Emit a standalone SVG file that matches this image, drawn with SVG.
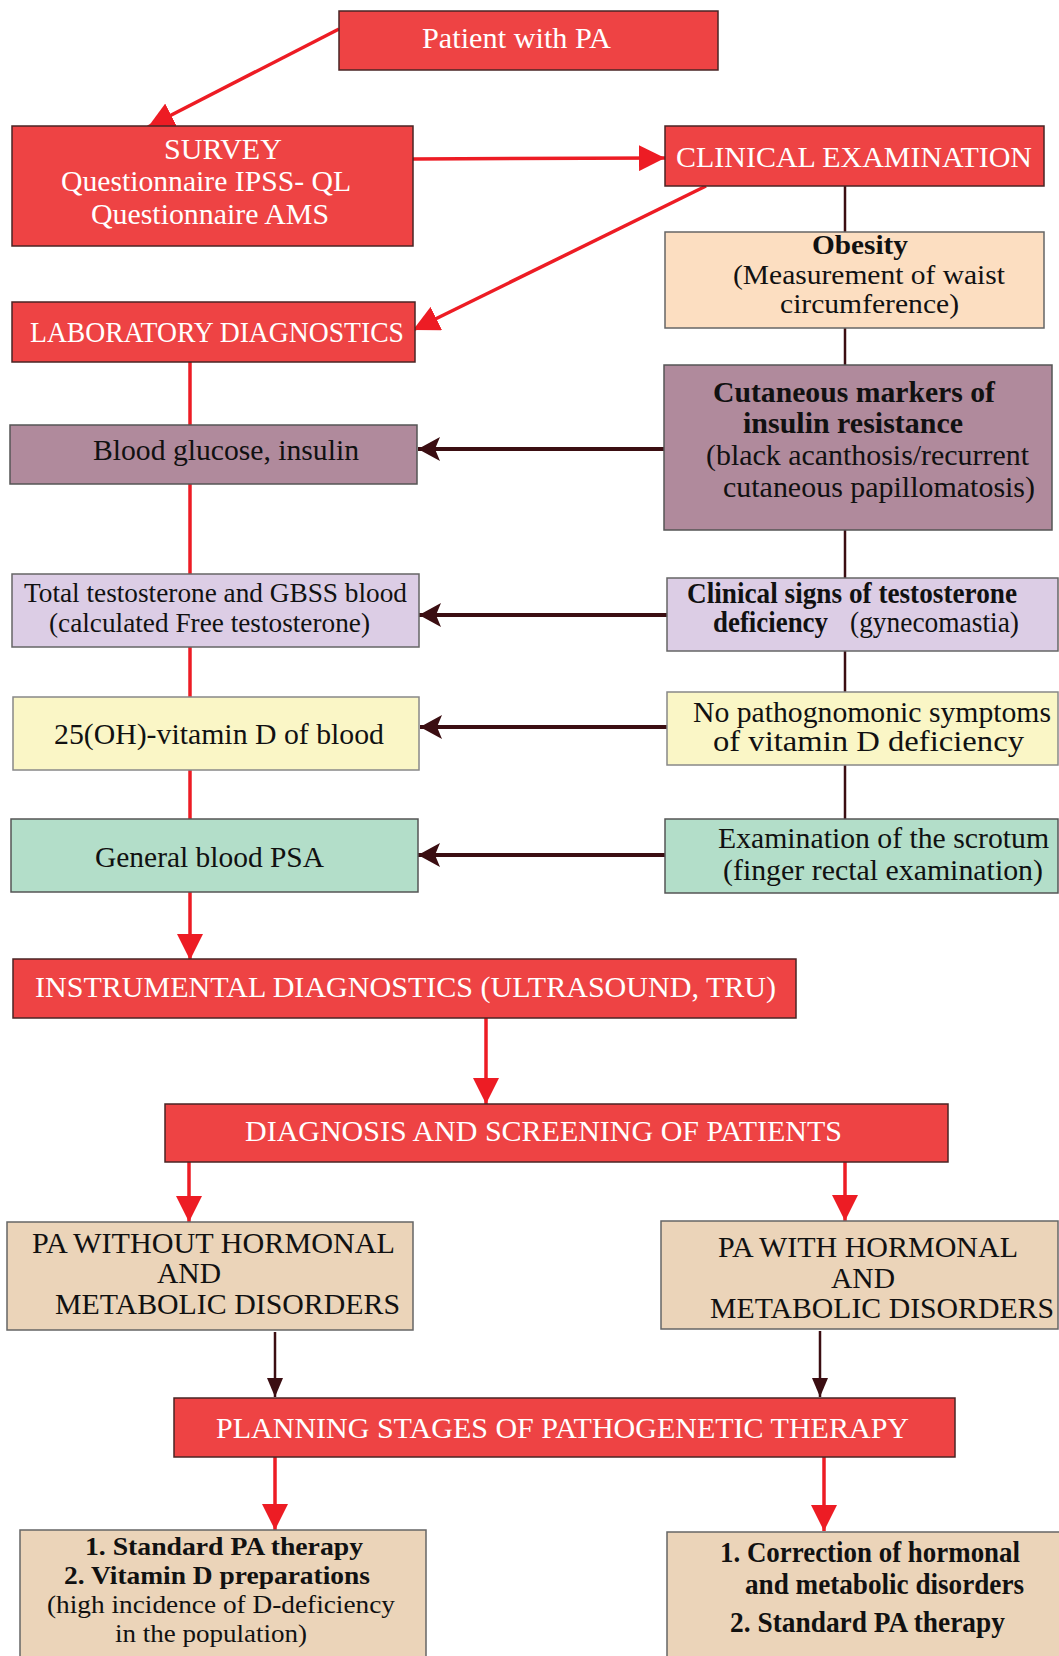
<svg xmlns="http://www.w3.org/2000/svg" width="1059" height="1656" viewBox="0 0 1059 1656">
<style>
text{font-family:"Liberation Serif","Times New Roman",serif;font-size:29px;fill:#111}
.w{fill:#fff;font-size:30px}
.b{font-weight:bold}
.s{font-size:26px}
.m{font-size:27px}
.red{fill:#EE4344;stroke:#4a2424;stroke-width:1.5}
.peach{fill:#FCDEC1;stroke:#666;stroke-width:1.5}
.mauve{fill:#B08A9C;stroke:#555;stroke-width:1.5}
.lav{fill:#DCCDE5;stroke:#666;stroke-width:1.5}
.yel{fill:#FAF6C6;stroke:#888;stroke-width:1.5}
.grn{fill:#B3DEC9;stroke:#555;stroke-width:1.5}
.tan{fill:#EBD4B9;stroke:#666;stroke-width:1.5}
.rl{stroke:#ED1C24;stroke-width:3.5;fill:none}
.dl{stroke:#3B0E12;stroke-width:2.5;fill:none}
.dh{stroke:#3B0E12;stroke-width:4;fill:none}
</style>
<defs>
<marker id="ra" markerUnits="userSpaceOnUse" markerWidth="28" markerHeight="26" refX="26" refY="13" orient="auto"><path d="M0,0 L26,13 L0,26 z" fill="#ED1C24"/></marker>
<marker id="da" markerUnits="userSpaceOnUse" markerWidth="24" markerHeight="24" refX="22" refY="12" orient="auto"><path d="M0,0 L22,12 L0,24 L5,12 z" fill="#3B0E12"/></marker>
<marker id="ds" markerUnits="userSpaceOnUse" markerWidth="20" markerHeight="18" refX="19" refY="8" orient="auto"><path d="M0,0 L19,8 L0,16 z" fill="#3B0E12"/></marker>
</defs>

<g id="connectors">
<line class="rl" x1="339" y1="29" x2="148" y2="127" marker-end="url(#ra)"/>
<line class="rl" x1="413" y1="159" x2="665" y2="158" marker-end="url(#ra)"/>
<line class="rl" x1="706" y1="186" x2="413" y2="330" marker-end="url(#ra)"/>
<line class="dl" x1="845" y1="186" x2="845" y2="232"/>
<line class="dl" x1="845" y1="328" x2="845" y2="365"/>
<line class="dl" x1="845" y1="530" x2="845" y2="578"/>
<line class="dl" x1="845" y1="651" x2="845" y2="692"/>
<line class="dl" x1="845" y1="765" x2="845" y2="819"/>
<line class="rl" x1="190" y1="362" x2="190" y2="425"/>
<line class="rl" x1="190" y1="484" x2="190" y2="574"/>
<line class="rl" x1="190" y1="647" x2="190" y2="697"/>
<line class="rl" x1="190" y1="770" x2="190" y2="819"/>
<line class="rl" x1="190" y1="892" x2="190" y2="960" marker-end="url(#ra)"/>
<line class="dh" x1="664" y1="449" x2="418" y2="449" marker-end="url(#da)"/>
<line class="dh" x1="667" y1="615" x2="419" y2="615" marker-end="url(#da)"/>
<line class="dh" x1="667" y1="727" x2="420" y2="727" marker-end="url(#da)"/>
<line class="dh" x1="665" y1="855" x2="418" y2="855" marker-end="url(#da)"/>
<line class="rl" x1="486" y1="1018" x2="486" y2="1104" marker-end="url(#ra)"/>
<line class="rl" x1="189" y1="1162" x2="189" y2="1222" marker-end="url(#ra)"/>
<line class="rl" x1="845" y1="1162" x2="845" y2="1221" marker-end="url(#ra)"/>
<line class="dl" x1="275" y1="1332" x2="275" y2="1397" marker-end="url(#ds)"/>
<line class="dl" x1="820" y1="1331" x2="820" y2="1397" marker-end="url(#ds)"/>
<line class="rl" x1="275" y1="1457" x2="275" y2="1530" marker-end="url(#ra)"/>
<line class="rl" x1="824" y1="1457" x2="824" y2="1531" marker-end="url(#ra)"/>
</g>

<g id="patient"><rect class="red" x="339" y="11" width="379" height="59"/>
<text class="w" x="422" y="48" textLength="189" lengthAdjust="spacingAndGlyphs">Patient with PA</text></g>

<g id="survey"><rect class="red" x="12" y="126" width="401" height="120"/>
<text class="w" x="164" y="159" textLength="118" lengthAdjust="spacingAndGlyphs">SURVEY</text>
<text class="w" x="61" y="191" textLength="290" lengthAdjust="spacingAndGlyphs">Questionnaire IPSS- QL</text>
<text class="w" x="91" y="224" textLength="238" lengthAdjust="spacingAndGlyphs">Questionnaire AMS</text></g>

<g id="clinical"><rect class="red" x="665" y="126" width="379" height="60"/>
<text class="w" x="676" y="167" textLength="356" lengthAdjust="spacingAndGlyphs">CLINICAL EXAMINATION</text></g>

<g id="obesity"><rect class="peach" x="665" y="232" width="379" height="96"/>
<text class="b m" x="812" y="254" textLength="96" lengthAdjust="spacingAndGlyphs">Obesity</text>
<text class="m" x="733" y="284" textLength="272" lengthAdjust="spacingAndGlyphs">(Measurement of waist</text>
<text class="m" x="780" y="313" textLength="179" lengthAdjust="spacingAndGlyphs">circumference)</text></g>

<g id="lab"><rect class="red" x="12" y="302" width="403" height="60"/>
<text class="w" x="30" y="342" textLength="374" lengthAdjust="spacingAndGlyphs">LABORATORY DIAGNOSTICS</text></g>

<g id="cutaneous"><rect class="mauve" x="664" y="365" width="388" height="165"/>
<text class="b" x="713" y="402" textLength="282" lengthAdjust="spacingAndGlyphs">Cutaneous markers of</text>
<text class="b" x="743" y="433" textLength="220" lengthAdjust="spacingAndGlyphs">insulin resistance</text>
<text x="706" y="465" textLength="323" lengthAdjust="spacingAndGlyphs">(black acanthosis/recurrent</text>
<text x="723" y="497" textLength="312" lengthAdjust="spacingAndGlyphs">cutaneous papillomatosis)</text></g>

<g id="glucose"><rect class="mauve" x="10" y="425" width="407" height="59"/>
<text x="93" y="460" textLength="266" lengthAdjust="spacingAndGlyphs">Blood glucose, insulin</text></g>

<g id="testo"><rect class="lav" x="12" y="574" width="407" height="73"/>
<text class="m" x="24" y="602" textLength="383" lengthAdjust="spacingAndGlyphs">Total testosterone and GBSS blood</text>
<text class="m" x="49" y="632" textLength="321" lengthAdjust="spacingAndGlyphs">(calculated Free testosterone)</text></g>

<g id="signs"><rect class="lav" x="667" y="578" width="391" height="73"/>
<text class="b" x="687" y="603" textLength="330" lengthAdjust="spacingAndGlyphs">Clinical signs of testosterone</text>
<text class="b" x="713" y="632" textLength="115" lengthAdjust="spacingAndGlyphs">deficiency</text>
<text x="850" y="632" textLength="169" lengthAdjust="spacingAndGlyphs">(gynecomastia)</text></g>

<g id="vitd"><rect class="yel" x="13" y="697" width="406" height="73"/>
<text x="54" y="744" textLength="330" lengthAdjust="spacingAndGlyphs">25(OH)-vitamin D of blood</text></g>

<g id="nopath"><rect class="yel" x="667" y="692" width="391" height="73"/>
<text x="693" y="722" textLength="358" lengthAdjust="spacingAndGlyphs">No pathognomonic symptoms</text>
<text x="713" y="751" textLength="311" lengthAdjust="spacingAndGlyphs">of vitamin D deficiency</text></g>

<g id="psa"><rect class="grn" x="11" y="819" width="407" height="73"/>
<text x="95" y="867" textLength="229" lengthAdjust="spacingAndGlyphs">General blood PSA</text></g>

<g id="scrotum"><rect class="grn" x="665" y="819" width="393" height="74"/>
<text x="718" y="848" textLength="331" lengthAdjust="spacingAndGlyphs">Examination of the scrotum</text>
<text x="723" y="880" textLength="320" lengthAdjust="spacingAndGlyphs">(finger rectal examination)</text></g>

<g id="instrumental"><rect class="red" x="13" y="959" width="783" height="59"/>
<text class="w" x="35" y="997" textLength="741" lengthAdjust="spacingAndGlyphs">INSTRUMENTAL DIAGNOSTICS (ULTRASOUND, TRU)</text></g>

<g id="diagnosis"><rect class="red" x="165" y="1104" width="783" height="58"/>
<text class="w" x="245" y="1141" textLength="597" lengthAdjust="spacingAndGlyphs">DIAGNOSIS AND SCREENING OF PATIENTS</text></g>

<g id="pawithout"><rect class="tan" x="7" y="1222" width="406" height="108"/>
<text x="32" y="1253" textLength="363" lengthAdjust="spacingAndGlyphs">PA WITHOUT HORMONAL</text>
<text x="157" y="1283" textLength="64" lengthAdjust="spacingAndGlyphs">AND</text>
<text x="55" y="1314" textLength="345" lengthAdjust="spacingAndGlyphs">METABOLIC DISORDERS</text></g>

<g id="pawith"><rect class="tan" x="661" y="1221" width="397" height="108"/>
<text x="718" y="1257" textLength="300" lengthAdjust="spacingAndGlyphs">PA WITH HORMONAL</text>
<text x="831" y="1288" textLength="64" lengthAdjust="spacingAndGlyphs">AND</text>
<text x="710" y="1318" textLength="344" lengthAdjust="spacingAndGlyphs">METABOLIC DISORDERS</text></g>

<g id="planning"><rect class="red" x="174" y="1398" width="781" height="59"/>
<text class="w" x="216" y="1438" textLength="693" lengthAdjust="spacingAndGlyphs">PLANNING STAGES OF PATHOGENETIC THERAPY</text></g>

<g id="therapy1"><rect class="tan" x="20" y="1530" width="406" height="135"/>
<text class="b s" x="85" y="1555" textLength="278" lengthAdjust="spacingAndGlyphs">1. Standard PA therapy</text>
<text class="b s" x="64" y="1584" textLength="306" lengthAdjust="spacingAndGlyphs">2. Vitamin D preparations</text>
<text class="s" x="47" y="1613" textLength="348" lengthAdjust="spacingAndGlyphs">(high incidence of D-deficiency</text>
<text class="s" x="115" y="1642" textLength="192" lengthAdjust="spacingAndGlyphs">in the population)</text></g>

<g id="therapy2"><rect class="tan" x="667" y="1532" width="400" height="135"/>
<text class="b" x="720" y="1562" textLength="300" lengthAdjust="spacingAndGlyphs">1. Correction of hormonal</text>
<text class="b" x="745" y="1594" textLength="279" lengthAdjust="spacingAndGlyphs">and metabolic disorders</text>
<text class="b" x="730" y="1632" textLength="275" lengthAdjust="spacingAndGlyphs">2. Standard PA therapy</text></g>
</svg>
